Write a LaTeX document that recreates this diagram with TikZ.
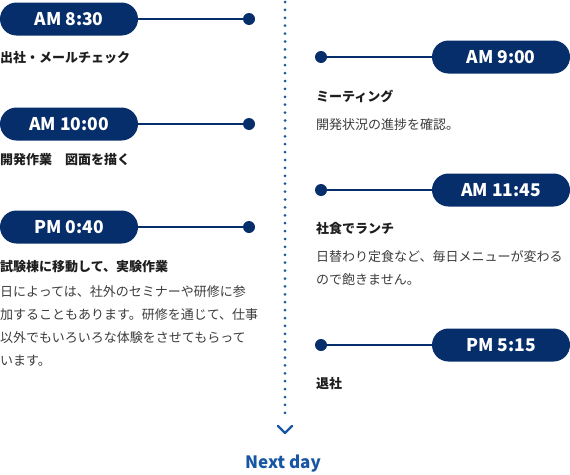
\documentclass[tikz,border=0pt]{standalone}
\usepackage{fontspec}
\setmainfont{Noto Sans CJK JP}
\usetikzlibrary{arrows.meta,calc,positioning}
\definecolor{PillNavy}{RGB}{6,46,106}
\definecolor{DotBlue}{RGB}{24,86,163}
\definecolor{BodyGray}{RGB}{60,60,60}
\definecolor{HeadBlack}{RGB}{30,30,30}

\tikzset{
    pill/.style={fill=PillNavy, text=white, rounded corners=16.5pt,
        minimum width=138pt, minimum height=33pt, inner sep=0pt,
        font=\fontsize{17.5}{17.5}\selectfont\bfseries},
    pin/.style={circle, fill=PillNavy, minimum size=12pt, inner sep=0pt},
    link/.style={PillNavy, line width=1.3pt},
    head/.style={anchor=base west, inner sep=0pt, text=HeadBlack,
        font=\fontsize{13}{23}\selectfont\bfseries},
    % multi-line body: placed at the baseline of its last line
    body/.style={anchor=base west, inner sep=0pt, text=BodyGray, align=left,
        font=\fontsize{13}{23}\selectfont}
}

\begin{document}
\begin{tikzpicture}[x=1pt, y=-1pt]
    \useasboundingbox (0,0) rectangle (570,474);
    % Dotted time line
    \coordinate (top) at (285,2);
    \coordinate (bottom) at (285,420);
    \draw[DotBlue, line width=3pt, line cap=round, dash pattern=on 0pt off 7.9pt] (top) -- (bottom);
    \draw[DotBlue, line width=2.4pt, line cap=round, line join=round]
        (278,426) -- (285,433) -- (292,426);
    \node[DotBlue, font=\fontsize{17}{17}\selectfont\bfseries] (next) at (283,464) {Next day};
    % Left column
    \node[pill] (t830) at (69,19) {AM 8:30};
    \node[pin] (p830) at (249,19) {};
    \draw[link] (t830) -- (p830);
    \node[head] (h830) at (0,62) {出社・メールチェック};
    \node[pill] (t1000) at (69,124) {AM 10:00};
    \node[pin] (p1000) at (249,124) {};
    \draw[link] (t1000) -- (p1000);
    \node[head] (h1000) at (0,164) {開発作業　図面を描く};
    \node[pill] (t040) at (69,227) {PM 0:40};
    \node[pin] (p040) at (249,227) {};
    \draw[link] (t040) -- (p040);
    \node[head] (h040) at (0,271) {試験棟に移動して、実験作業};
    \node[body] (b040) at (0,365) {日によっては、社外のセミナーや研修に参\\加することもあります。研修を通じて、仕事\\以外でもいろいろな体験をさせてもらって\\います。};
    % Right column
    \node[pill] (t900) at (501,57) {AM 9:00};
    \node[pin] (p900) at (321,57) {};
    \draw[link] (p900) -- (t900);
    \node[head] (h900) at (316,101) {ミーティング};
    \node[body] (b900) at (316,129) {開発状況の進捗を確認。};
    \node[pill] (t1145) at (501,190) {AM 11:45};
    \node[pin] (p1145) at (321,190) {};
    \draw[link] (p1145) -- (t1145);
    \node[head] (h1145) at (316,233) {社食でランチ};
    \node[body] (b1145) at (316,284) {日替わり定食など、毎日メニューが変わる\\ので飽きません。};
    \node[pill] (t515) at (501,345) {PM 5:15};
    \node[pin] (p515) at (321,345) {};
    \draw[link] (p515) -- (t515);
    \node[head] (h515) at (316,388) {退社};
\end{tikzpicture}
\end{document}
